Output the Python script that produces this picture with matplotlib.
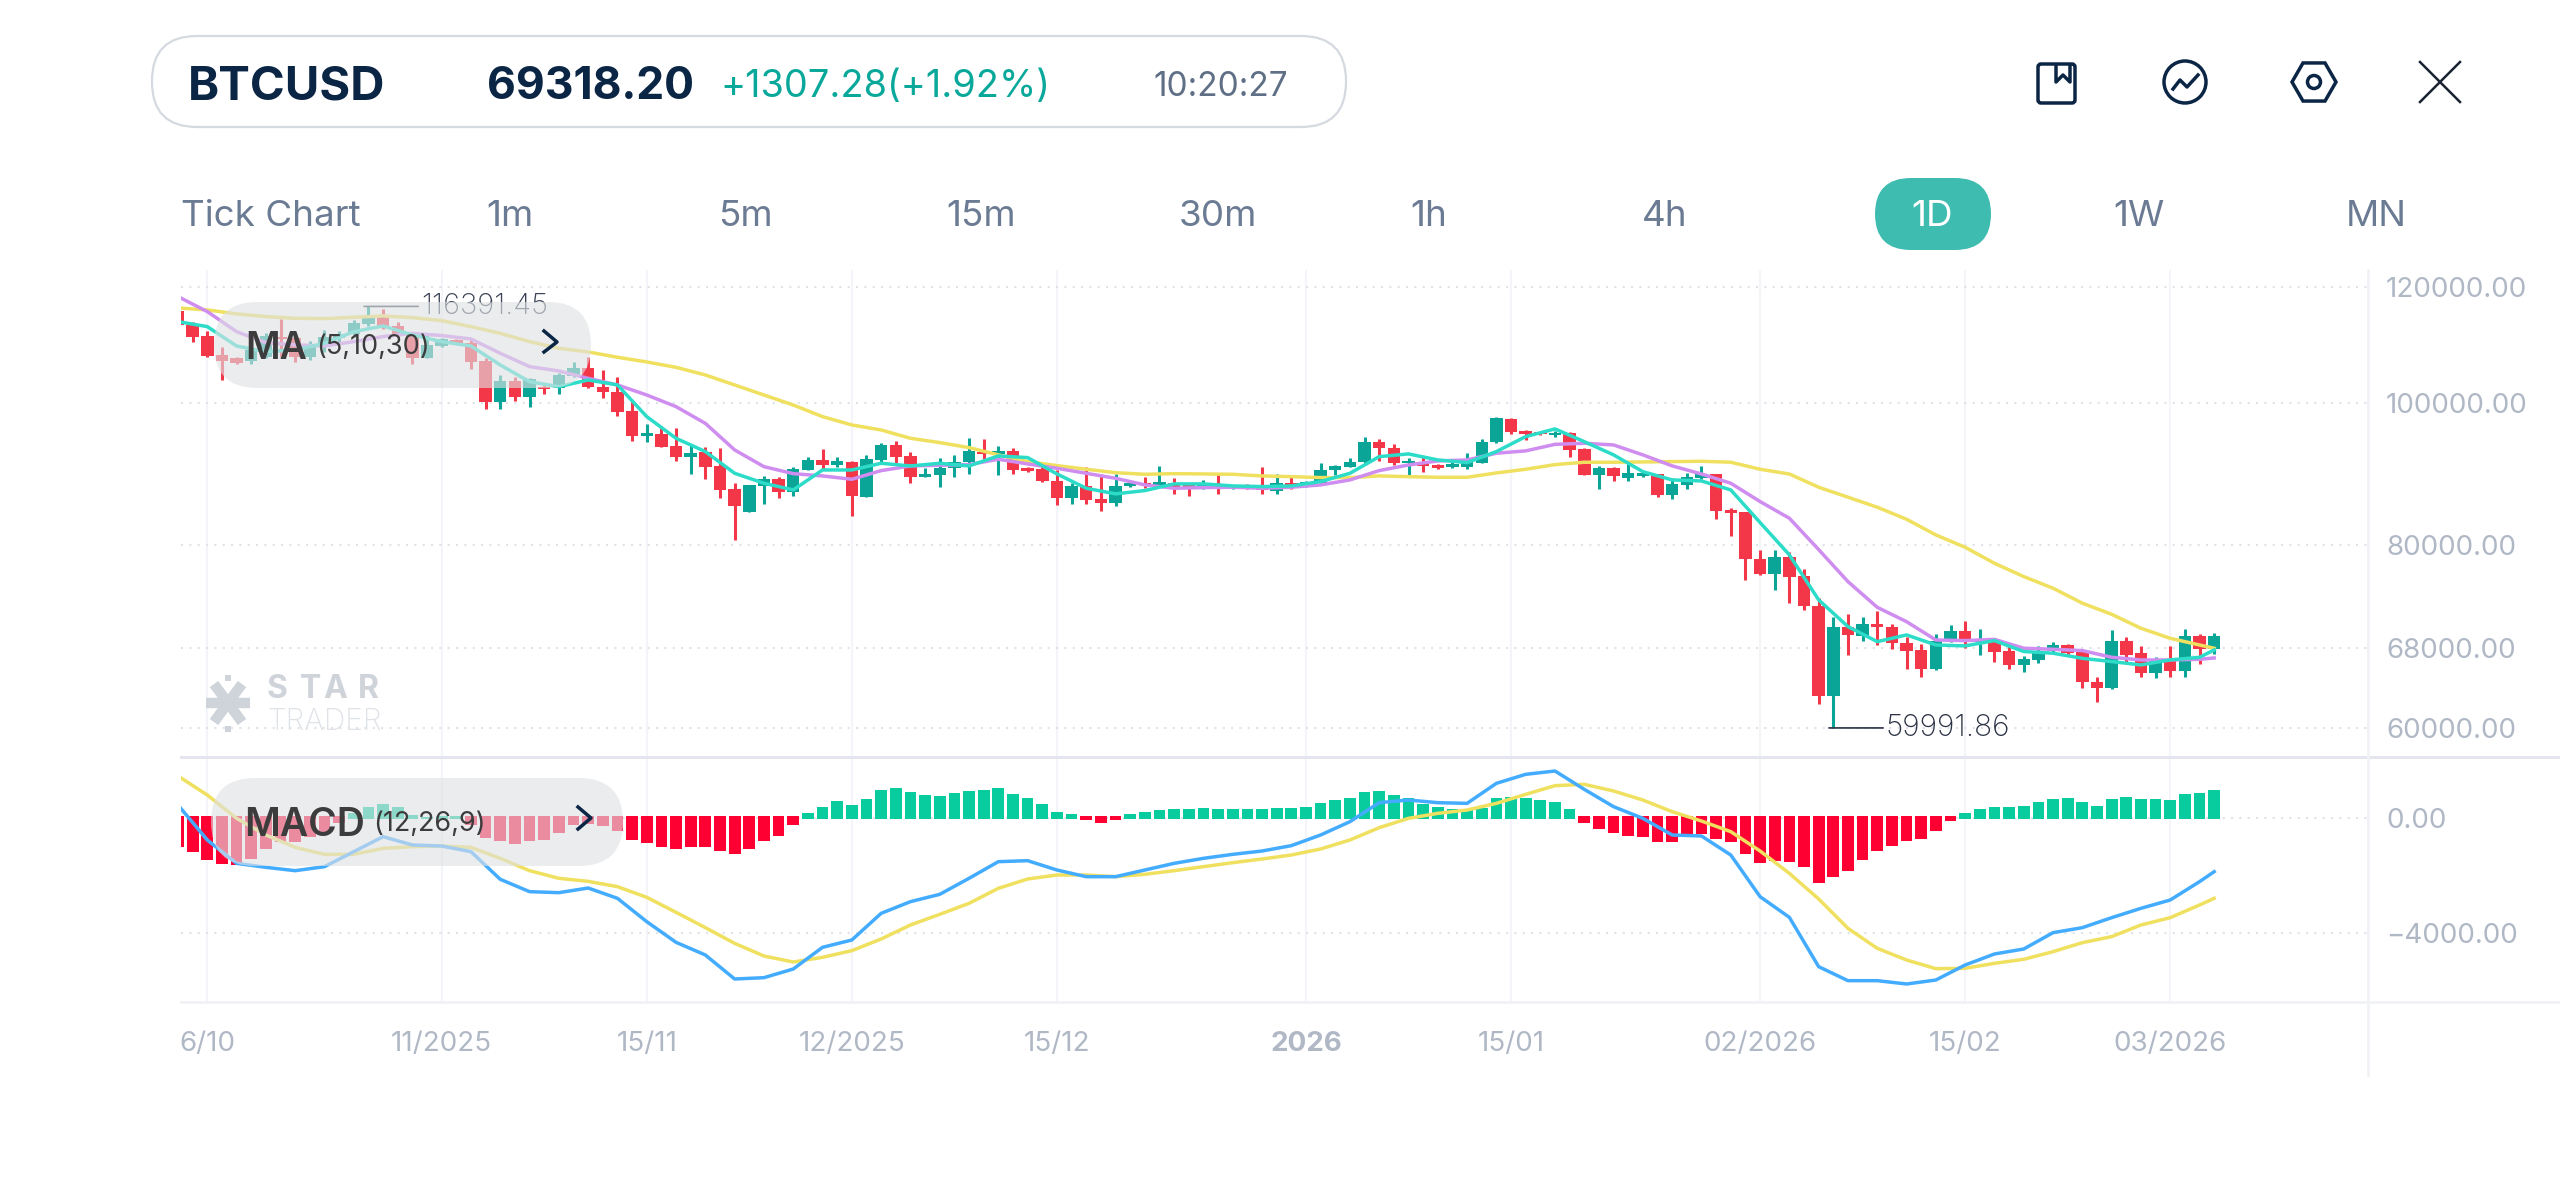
import matplotlib
matplotlib.use("Agg")
import matplotlib.pyplot as plt
from matplotlib.patches import FancyBboxPatch, Rectangle, Circle, RegularPolygon

plt.rcParams['font.family'] = ['Inter', 'DejaVu Sans']

# one candle per slot, oldest first
highs = [115750,113520,111980,109260,107560,108970,111570,114060,111000,110290,
    112160,111980,113940,116391.45,115870,113640,111860,111290,110700,110530,
    110700,107280,104500,104120,103950,102870,104880,106610,107440,105320,
    104120,100360,96750,96490,96100,93760,93280,93130,88140,87910,
    89160,89060,90380,91900,93030,91900,91330,92160,93960,94200,
    92640,90240,91770,92210,94700,94500,93520,93180,90380,90380,
    90000,88140,90380,89440,89480,88460,88970,90570,88930,88000,
    88600,89530,87860,88050,90380,89440,89160,88460,90950,90710,
    91770,94850,94500,93760,91670,92010,90810,91190,92490,94500,
    97870,97620,95840,95590,95690,95480,93100,90570,90480,91190,
    89860,89430,88830,89530,90570,89430,84830,84300,79370,79370,
    79120,76990,73630,71390,71730,71470,72150,70650,69260,68420,
    69510,70540,70980,70130,69150,68420,67220,68280,68640,68460,
    67650,64960,70020,69180,68210,67080,68240,70130,69510,69690]
lows = [112870,110120,107560,103680,106380,106270,107280,107560,106710,106990,
    108400,110120,111000,112870,112280,111000,106380,107280,109260,109720,
    105430,99010,99010,100360,99320,101420,101420,104120,102430,100830,
    98020,94250,94010,93360,91290,89400,88700,86130,80620,84300,
    85320,86130,86400,90000,90140,90470,83760,86220,90950,90950,
    88140,88970,87680,89060,89480,91530,89340,89480,89720,88370,
    85190,85320,85320,84430,85060,87680,87500,87680,86630,86410,
    87310,86630,87310,87310,86720,86720,87310,87590,88050,89290,
    90380,91050,91290,90710,89340,89720,90190,90330,90190,90950,
    93960,95190,94350,95040,94850,91910,89340,87310,88510,88510,
    89060,86220,86040,87310,88740,83380,81110,75710,76310,74530,
    72990,72220,62300,59991.86,67290,68750,68350,67930,65790,65030,
    65720,68640,68000,67290,66550,65860,65550,66480,67470,67190,
    63850,62530,63810,66410,65030,64860,65030,65030,66300,67400]
opens = [115630,113050,111180,107790,107340,106880,107450,111000,110820,107450,
    109260,110700,111410,113220,114420,112870,111570,107400,109370,110410,
    109950,106820,100200,103520,100990,102590,102330,104340,105650,102590,
    101790,98750,95000,95240,93470,91900,92550,90530,87310,84300,
    87770,88780,86910,90040,91390,90760,91100,86310,91430,93660,
    92060,89060,89340,90240,91190,92640,92300,92790,90330,90140,
    88460,86130,87820,85950,85460,87770,88230,87860,88190,87860,
    87680,87910,87400,87820,87590,87130,88190,87770,88190,89950,
    90470,91190,94060,93180,91050,91190,90710,90430,90430,91050,
    94010,97560,95690,95540,95040,95390,92980,89340,90290,88880,
    89150,89430,86500,87960,88930,89430,84520,84260,78250,76430,
    78550,76150,72720,63120,70310,69330,70610,70310,68600,67790,
    65790,68750,69870,68680,68860,67680,66240,66760,67720,68320,
    67610,64520,63880,68820,67470,65380,66620,65620,69370,67960]
closes = [113050,111000,107680,106880,106550,108690,111180,110530,107450,109720,
    111000,111410,113340,114420,112750,111410,107280,109490,110590,109890,
    106710,100200,103570,100990,103840,102170,104500,105650,102550,101740,
    98640,95000,95350,93360,91820,92490,90470,87220,85100,87910,
    88700,86910,90140,91390,90720,91290,86360,91530,93660,91910,
    89060,89390,90240,91190,92690,92300,92740,90050,89810,88420,
    86130,87770,85860,85460,87820,88230,87860,88320,87540,87500,
    88050,87450,87770,87450,87220,88190,87770,88320,90000,90520,
    91190,94060,93180,90950,91340,90570,90290,90810,91100,94060,
    97620,95490,95190,95190,95440,92830,89340,90240,89150,89620,
    89530,86540,88090,88980,89390,84430,84170,78210,76390,78550,
    76110,72680,63120,70310,69400,70650,70280,68530,67750,65830,
    68820,69910,68820,68960,67610,66230,66830,67750,68350,67470,
    64520,63920,68820,67290,65380,66690,65620,69330,67960,69318.2]

line_days = list(range(0, 140, 2)) + [139]
ma5 = [113640,112750,109370,108400,108690,109830,111860,112870,111290,110120,109370,106160,
    103400,102590,103680,102870,97870,94590,92640,89530,88140,87220,90000,90000,
    90950,90570,90950,90570,92010,91770,89440,87450,86680,87130,88050,88050,
    87770,87680,87770,88370,89530,91910,92300,91430,91050,92640,94850,96000,
    94100,92160,89760,88600,88460,87220,82860,78750,73370,70350,68710,69440,
    68350,68250,68820,67650,67470,66930,66590,66240,66760,67040,67820]
ma10 = [118200,115450,111860,109950,109550,109370,110120,111000,111570,111180,110590,108120,
    105880,105160,103950,102870,101260,99420,96840,92880,90470,89480,89160,88690,
    89910,90570,90670,90760,91530,90860,90240,89530,88830,87910,87450,87540,
    87590,87450,87590,87910,88600,89910,90710,91290,91430,92400,92740,93700,
    93860,93610,92160,90580,89430,88140,85640,83420,79410,75510,72520,70900,
    68890,68820,68960,68000,67890,67750,67040,66760,66760,66830,66970]
ma30 = [116110,115750,115030,114540,114240,114180,114420,114660,114360,113820,112750,111570,
    110120,108970,108350,107450,106660,105760,104500,102870,101260,99680,97870,96600,
    95840,94600,93960,93220,92160,91190,90620,90100,89620,89390,89480,89440,
    89390,89160,89060,88930,88930,89160,89060,88970,88970,89580,90100,90760,
    91100,91100,91140,91190,91240,91100,90100,89430,87590,86230,84880,83290,
    81260,79700,77720,76110,74730,72990,71730,70170,69070,68350,68000]

hist = [-998,-1195,-1462,-1601,-1647,-1427,-1079,-824,-824,-650,-476,-162,186,394,476,394,104,46,70,70,
    -244,-708,-789,-916,-789,-766,-510,-244,-220,-278,-452,-766,-858,-998,-1090,-1021,-1021,-1137,-1264,-1067,
    -789,-626,-244,162,394,603,441,673,974,1056,916,812,777,858,951,986,1032,824,684,476,
    197,139,-70,-162,-70,139,209,278,313,313,348,313,313,313,313,348,348,383,522,626,
    684,893,928,800,684,487,383,313,267,336,684,719,684,626,557,313,-162,-371,-534,-638,
    -673,-847,-824,-638,-557,-731,-847,-1253,-1578,-1496,-1531,-1705,-2274,-2042,-1833,-1462,-1148,-986,-812,-742,
    -441,-93,162,302,371,371,406,545,673,708,545,406,673,742,673,673,638,847,882,986]
dif = [452,-765,-1577,-1716,-1832,-1693,-1171,-649,-939,-974,-1171,-2133,-2562,-2597,-2435,-2794,-3606,-4325,
    -4765,-5600,-5554,-5252,-4498,-4243,-3316,-2910,-2655,
    -2098,-1519,-1484,-1809,-2041,-2041,-1809,-1577,-1403,-1264,-1148,-962,-591,-128,533,626,533,510,
    1206,1519,1635,997,394,-12,-591,-626,-1287,-2736,
    -3455,-5171,-5658,-5658,-5774,-5635,-5113,-4730,-4556,-3988,-3814,-3467,-3142,-2852,-2214,-1867]
dea = [1461,800,-12,-591,-1020,-1264,-1264,-1055,-997,-974,-1020,-1403,-1832,-2098,-2203,-2388,-2759,-3281,
    -3814,-4359,-4800,-5009,-4846,-4614,-4209,-3722,-3351,
    -2968,-2446,-2122,-1983,-1983,-2041,-1959,-1832,-1693,-1554,-1426,-1287,-1078,-765,-336,-12,162,278,
    510,823,1125,1171,939,626,220,-104,-475,-1148,
    -1925,-2817,-3838,-4533,-4939,-5240,-5229,-5055,-4916,-4649,-4336,-4127,-3722,-3467,-3026,-2794]

price_ticks = [60000, 68000, 80000, 100000, 120000]
price_labels = ["60000.00", "68000.00", "80000.00", "100000.00", "120000.00"]
macd_ticks = [0, -4000]
macd_labels = ["0.00", "\u22124000.00"]
date_slots = [2, 18, 32, 46, 60, 77, 91, 108, 122, 136]
date_labels = ["6/10", "11/2025", "15/11", "12/2025", "15/12", "2026", "15/01", "02/2026", "15/02", "03/2026"]
timeframes = ["Tick Chart", "1m", "5m", "15m", "30m", "1h", "4h", "1D", "1W", "MN"]
timeframe_x = [271, 510, 745, 981, 1218, 1429, 1665, 1932, 2139, 2376]

RED = "#f43649"
TEAL = "#0ba598"
GRID = "#dfe2e8"
VGRID = "#f4f5f8"
LABEL = "#b0b8c6"
NAVY = "#0b2545"
W, H = 2560, 1177

fig = plt.figure(figsize=(W / 100, H / 100), dpi=100, facecolor="white")


def box(left, top, right, bottom):
    return [left / W, 1 - bottom / H, (right - left) / W, (bottom - top) / H]


ax = fig.add_axes(box(181, 270, 2368, 757))
ax2 = fig.add_axes(box(181, 757, 2368, 1002))

# price panel
ax.set_yscale("log")
ax.set_xlim(0.205, 149.5)
ax.set_ylim(57312, 123250)
for i in range(len(opens)):
    col = TEAL if closes[i] >= opens[i] else RED
    ax.vlines(i, lows[i], highs[i], color=col, lw=2.2, zorder=3)
    ax.bar(i, abs(closes[i] - opens[i]), bottom=min(opens[i], closes[i]), width=0.85, color=col, zorder=3)
ax.plot(line_days, ma30, color="#f0e060", lw=2.5, zorder=4)
ax.plot(line_days, ma10, color="#cf8df0", lw=2.5, zorder=4)
ax.plot(line_days, ma5, color="#2cdcc8", lw=2.5, zorder=5)

ax.set_yticks(price_ticks)
ax.set_yticklabels(price_labels)
ax.minorticks_off()
ax.yaxis.tick_right()
ax.tick_params(axis="y", length=0, pad=13, labelsize=20, labelcolor=LABEL)
ax.set_xticks(date_slots)
ax.tick_params(axis="x", length=0, labelbottom=False)

# high and low flags, level with the extreme
ax.annotate("116391.45", xy=(12.7, max(highs)), xytext=(57, 0), textcoords="offset pixels",
            fontsize=21, color="#3a4354", va="center", fontweight="light",
            arrowprops=dict(arrowstyle="-", color="#3a4354", lw=1.2, shrinkA=0, shrinkB=0))
ax.annotate("59991.86", xy=(112.7, min(lows)), xytext=(57, 0), textcoords="offset pixels",
            fontsize=21.5, color="#2a3244", va="center", fontweight="light",
            arrowprops=dict(arrowstyle="-", color="#2a3244", lw=1.2, shrinkA=0, shrinkB=0))

# macd panel
ax2.set_xlim(0.205, 149.5)
ax2.set_ylim(-6400, 2122)
for i in range(len(hist)):
    if hist[i] > 0:
        ax2.bar(i, hist[i] + 35, bottom=-35, width=0.8, color="#08cc9e", zorder=2)
    else:
        ax2.bar(i, hist[i] - 80, bottom=80, width=0.8, color="#ff0033", zorder=2)
ax2.plot(line_days, dif, color="#44acff", lw=2.5, zorder=4)
ax2.plot(line_days, dea, color="#f0e060", lw=2.5, zorder=3)
ax2.set_yticks(macd_ticks)
ax2.set_yticklabels(macd_labels)
ax2.yaxis.tick_right()
ax2.tick_params(axis="y", length=0, pad=13, labelsize=20, labelcolor=LABEL)
ax2.set_xticks(date_slots)
ax2.set_xticklabels(date_labels)
ax2.tick_params(axis="x", length=0, pad=21, labelsize=20, labelcolor=LABEL)
ax2.get_xticklabels()[5].set_fontweight("bold")

for a in (ax, ax2):
    for s in a.spines.values():
        s.set_visible(False)
    a.grid(axis="y", color=GRID, lw=1.5, linestyle=(0, (1, 3)), zorder=0)
    a.grid(axis="x", color=VGRID, lw=1.5, linestyle="-", zorder=0)
    a.set_axisbelow(True)

# everything around the plot lives on a pixel sized overlay
ui = fig.add_axes([0, 0, 1, 1], facecolor="none")
ui.set_xlim(0, W)
ui.set_ylim(H, 0)
ui.axis("off")

ui.plot([181, W], [757, 757], color="#e4e5ef", lw=2.2)
ui.plot([181, W], [1002, 1002], color="#f1f2f5", lw=2)
ui.plot([2368, 2368], [270, 1075], color="#f1f2f5", lw=2)

# header
ui.add_patch(FancyBboxPatch((152, 36), 1194, 91, boxstyle="round,pad=0,rounding_size=45",
                            fc="white", ec="#d5d9e0", lw=1.6))
ui.text(188, 87, "BTCUSD", fontsize=34, fontweight="bold", color=NAVY, va="center")
ui.text(487, 87, "69318.20", fontsize=32, fontweight="bold", color=NAVY, va="center")
ui.text(720, 87, "+1307.28(+1.92%)", fontsize=27.3, color="#0aa89a", va="center")
ui.text(1153, 87, "10:20:27", fontsize=24, color="#5f6f85", va="center")

# timeframe row
ui.add_patch(FancyBboxPatch((1875, 178), 116, 72, boxstyle="round,pad=0,rounding_size=36",
                            fc="#3fbcb0", ec="none"))
for t, x in zip(timeframes, timeframe_x):
    ui.text(x, 216, t, fontsize=26.5, color="white" if t == "1D" else "#6b7b93", ha="center", va="center")

# header icons
ui.add_patch(FancyBboxPatch((2038, 64), 37, 39, boxstyle="round,pad=0,rounding_size=3", fc="none", ec=NAVY, lw=2.5))
ui.plot([2056, 2056, 2063, 2070, 2070], [66, 82, 75, 82, 66], color=NAVY, lw=2.5)
ui.add_patch(Circle((2185, 82), 21, fc="none", ec=NAVY, lw=2.5))
ui.plot([2173, 2180, 2187, 2198], [89, 80, 87, 75], color=NAVY, lw=2.5)
ui.add_patch(RegularPolygon((2314, 82), 6, radius=22, orientation=0.5236, fc="none", ec=NAVY, lw=2.5))
ui.add_patch(Circle((2314, 82), 6.5, fc="none", ec=NAVY, lw=2.5))
ui.plot([2420, 2460], [62, 102], color="#1a2233", lw=1.8)
ui.plot([2420, 2460], [102, 62], color="#1a2233", lw=1.8)

# watermark
for dx, dy in [(-22, 0), (22, 0), (-14, -19), (14, -19), (-14, 19), (14, 19)]:
    ui.plot([228, 228 + dx], [703, 703 + dy], color="#cfd3da", lw=7.5, solid_capstyle="butt")
ui.add_patch(Rectangle((225, 675), 6, 6, fc="#cfd3da", ec="none"))
ui.add_patch(Rectangle((225, 726), 6, 6, fc="#cfd3da", ec="none"))
for ch, x in zip("STAR", [267, 300, 323, 358]):
    ui.text(x, 690, ch, fontsize=23, fontweight="bold", color="#cfd3da", va="center")
ui.text(267, 722, "TRADER", fontsize=21.5, fontweight="light", color="#dfe2e7", va="center")

# indicator pills
ui.add_patch(FancyBboxPatch((214, 302), 377, 86, boxstyle="round,pad=0,rounding_size=43",
                            fc="#dfe1e4", ec="none", alpha=0.62, zorder=6))
ui.text(245, 349, "MA", fontsize=27, fontweight="semibold", color="#3c3c3c", va="center", zorder=7)
ui.text(316, 347, "(5,10,30)", fontsize=19.5, color="#3c3c3c", va="center", zorder=7)
ui.plot([544, 557, 544], [331, 342, 352], color=NAVY, lw=2.5, zorder=7)

ui.add_patch(FancyBboxPatch((211, 778), 412, 88, boxstyle="round,pad=0,rounding_size=44",
                            fc="#dfe1e4", ec="none", alpha=0.62, zorder=6))
ui.text(244, 825, "MACD", fontsize=28, fontweight="semibold", color="#3c3c3c", va="center", zorder=7)
ui.text(373, 824, "(12,26,9)", fontsize=19.5, color="#3c3c3c", va="center", zorder=7)
ui.plot([578, 591, 578], [807, 818, 829], color=NAVY, lw=2.5, zorder=7)

fig.savefig("out.png", dpi=100)
